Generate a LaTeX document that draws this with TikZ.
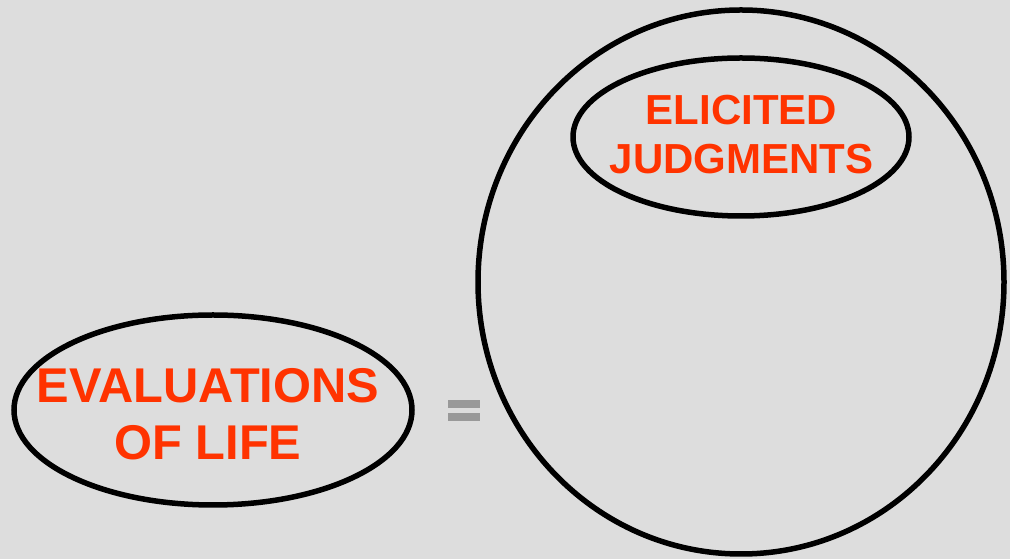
\documentclass[tikz,border=0pt]{standalone}
\usepackage{fontspec}
\setmainfont{Liberation Sans}
\definecolor{bgray}{HTML}{DDDDDD}
\definecolor{lblred}{HTML}{FF3300}
\definecolor{eqgray}{HTML}{999999}
\tikzset{
  oval/.style={draw=black,line width=5.5pt},
  lbl/.style={text=lblred,font=\bfseries,align=center,anchor=base,inner sep=0pt}
}

\begin{document}
\begin{tikzpicture}[x=1pt,y=1pt]
			\fill[bgray] (0,0) rectangle (1010,559);
			\useasboundingbox (0,0) rectangle (1010,559);
			% ovals
			\draw[oval] (741,277) ellipse [x radius=263,y radius=272];
			\draw[oval] (741,422) ellipse [x radius=168,y radius=79];
			\draw[oval] (213,149) ellipse [x radius=199,y radius=95];
			% labels
			\node[lbl,font=\bfseries\fontsize{42}{49}\selectfont] (elic) at (741.5,385) {ELICITED\\JUDGMENTS};
			\node[lbl,font=\bfseries\fontsize{48.8}{57}\selectfont] (eval) at (208,99) {EVALUATIONS\\OF LIFE};
			% equals
			\coordinate (eq) at (464,148);
			\fill[eqgray] ([xshift=-16,yshift=3]eq) rectangle ([xshift=16,yshift=11]eq);
			\fill[eqgray] ([xshift=-16,yshift=-10]eq) rectangle ([xshift=16,yshift=-2]eq);
		\end{tikzpicture}
\end{document}
